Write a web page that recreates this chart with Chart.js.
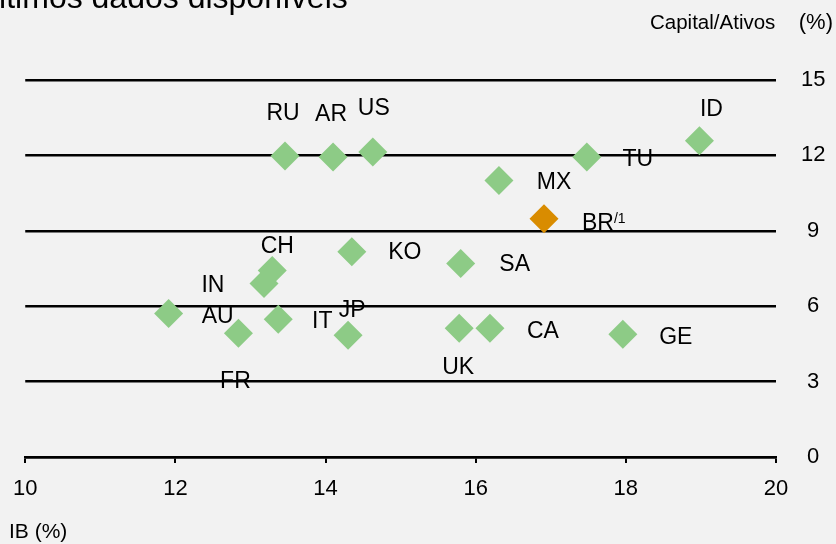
<!DOCTYPE html>
<html>
<head>
<meta charset="utf-8">
<script src="https://cdn.jsdelivr.net/npm/chart.js@4.4.1/dist/chart.umd.min.js"></script>
<style>
  html, body { margin: 0; padding: 0; background: #f2f2f2; overflow: hidden; }
  canvas { display: block; }
</style>
</head>
<body>
<canvas id="chart" width="836" height="544"></canvas>
<script>
// data
const countries = ['RU', 'AR', 'US', 'MX', 'TU', 'ID', 'CH', 'IN', 'KO', 'SA', 'AU', 'FR', 'IT', 'JP', 'UK', 'CA', 'GE'];
const ibValues = [13.46, 14.10, 14.63, 16.31, 17.48, 18.98, 13.29, 13.18, 14.35, 15.80, 11.91, 12.84, 13.37, 14.30, 15.78, 16.19, 17.96];
const capitalValues = [11.98, 11.94, 12.14, 11.0, 11.94, 12.58, 7.42, 6.9, 8.17, 7.70, 5.71, 4.92, 5.48, 4.84, 5.12, 5.12, 4.88];

const brLabel = 'BR';
const brNote = '/1';
const brIb = [16.91];
const brCapital = [9.48];

const xTicks = [10, 12, 14, 16, 18, 20];
const yTicks = [0, 3, 6, 9, 12, 15];

const titleText = 'Últimos dados disponíveis';
const yTitle = 'Capital/Ativos';
const xTitle = 'IB (%)';

// label offsets in px from each marker (placement only)
const labelOffsets = {
  RU: [-2, -42], AR: [-2, -42], US: [1, -43], MX: [55, 2], TU: [51, 3], ID: [12, -31],
  CH: [5, -24], IN: [-51, 2], KO: [53, 1], SA: [54, 1], AU: [49, 3], FR: [-3, 48],
  IT: [44, 2], JP: [4, -25], UK: [-1, 39], CA: [53, 3], GE: [53, 3], BR: [38, 5]
};

const green = '#8dcb86';
const orange = '#d98c00';
const font = '"Liberation Sans", Arial, sans-serif';

const labelPlugin = {
  id: 'pointLabels',
  afterDatasetsDraw(chart) {
    const ctx = chart.ctx;
    ctx.save();
    ctx.fillStyle = '#000';
    ctx.textAlign = 'center';
    ctx.textBaseline = 'middle';
    ctx.font = '23px ' + font;
    chart.getDatasetMeta(0).data.forEach((pt, i) => {
      const name = countries[i];
      const off = labelOffsets[name];
      ctx.fillText(name, pt.x + off[0], pt.y + off[1]);
    });
    const br = chart.getDatasetMeta(1).data[0];
    const bo = labelOffsets.BR;
    ctx.textAlign = 'left';
    const bx = br.x + bo[0];
    ctx.fillText(brLabel, bx, br.y + bo[1]);
    const w = ctx.measureText(brLabel).width;
    ctx.font = '14px ' + font;
    ctx.fillText(brNote, bx + w, br.y + bo[1] - 5);

    // title (cut off at the top in the original) and axis titles
    ctx.textBaseline = 'alphabetic';
    ctx.font = '32px ' + font;
    ctx.fillText(titleText, -24, 8);

    ctx.textBaseline = 'middle';
    ctx.font = '20.5px ' + font;
    ctx.fillText(yTitle, 650, 23);
    ctx.textAlign = 'right';
    ctx.font = '22px ' + font;
    ctx.fillText('(%)', 833, 23);
    ctx.textAlign = 'left';
    ctx.font = '21px ' + font;
    ctx.fillText(xTitle, 9, 532);
    ctx.restore();
  }
};

new Chart(document.getElementById('chart'), {
  type: 'scatter',
  data: {
    datasets: [
      {
        data: ibValues.map((x, i) => ({ x: x, y: capitalValues[i] })),
        backgroundColor: green,
        pointStyle: 'rectRot',
        pointRadius: 14.5,
        pointHoverRadius: 14.5,
        borderWidth: 0
      },
      {
        data: brIb.map((x, i) => ({ x: x, y: brCapital[i] })),
        backgroundColor: orange,
        pointStyle: 'rectRot',
        pointRadius: 14.5,
        pointHoverRadius: 14.5,
        borderWidth: 0
      }
    ]
  },
  options: {
    responsive: false,
    animation: false,
    layout: { padding: { top: 80, left: 14, right: 0, bottom: 0 } },
    plugins: { legend: { display: false }, tooltip: { enabled: false } },
    scales: {
      x: {
        type: 'linear',
        min: 10, max: 20,
        afterFit: (s) => { s.height = 87; },
        afterBuildTicks: (s) => { s.ticks = xTicks.map(v => ({ value: v })); },
        grid: { drawOnChartArea: false, drawTicks: true, tickLength: 6, color: '#000', lineWidth: 2 },
        border: { display: true, color: '#000', width: 2.5 },
        ticks: { color: '#000', font: { family: font, size: 22 }, padding: 13, maxRotation: 0 }
      },
      y: {
        position: 'right',
        min: 0, max: 15,
        afterFit: (s) => { s.width = 60; },
        afterBuildTicks: (s) => { s.ticks = yTicks.map(v => ({ value: v })); },
        grid: { drawTicks: false, color: '#000', lineWidth: 2.5 },
        border: { display: false },
        ticks: { color: '#000', font: { family: font, size: 22 }, padding: 25, crossAlign: 'center' }
      }
    }
  },
  plugins: [labelPlugin]
});
</script>
</body>
</html>
